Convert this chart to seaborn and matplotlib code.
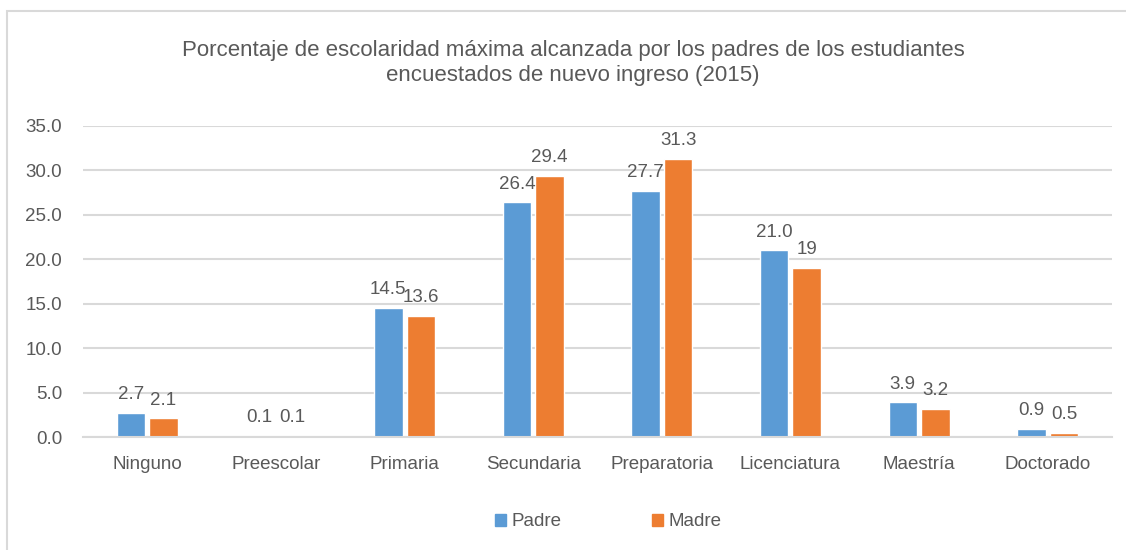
import pandas as pd
import numpy as np
import matplotlib.pyplot as plt
import seaborn as sns
from matplotlib.patches import Rectangle, Patch

sns.set_theme(style="white")
plt.rcParams['font.family'] = ['Liberation Sans Narrow', 'Liberation Sans', 'DejaVu Sans']

# Data
niveles = ["Ninguno", "Preescolar", "Primaria", "Secundaria", "Preparatoria",
           "Licenciatura", "Maestría", "Doctorado"]
padre = [2.7, 0.1, 14.5, 26.4, 27.7, 21.0, 3.9, 0.9]
madre = [2.1, 0.1, 13.6, 29.4, 31.3, 19.0, 3.2, 0.5]
etiquetas_padre = ["2.7", "0.1", "14.5", "26.4", "27.7", "21.0", "3.9", "0.9"]
etiquetas_madre = ["2.1", "0.1", "13.6", "29.4", "31.3", "19", "3.2", "0.5"]
series = ["Padre", "Madre"]
yticks = [0, 5, 10, 15, 20, 25, 30, 35]

df = pd.DataFrame({
    "nivel": niveles * 2,
    "valor": padre + madre,
    "serie": [series[0]] * len(niveles) + [series[1]] * len(niveles),
})

colores = {"Padre": "#5B9BD5", "Madre": "#ED7D31"}
gris = "#595959"

fig = plt.figure(figsize=(11.26, 5.5), dpi=100)
ax = fig.add_axes([83 / 1126, 1 - 437 / 550, (1112 - 83) / 1126, (437 - 126) / 550])

sns.barplot(data=df, x="nivel", y="valor", hue="serie", palette=colores,
            width=0.505, gap=0.12, ax=ax, legend=False, saturation=1)

for cont, labs in zip(ax.containers, [etiquetas_padre, etiquetas_madre]):
    ax.bar_label(cont, labels=labs, padding=7, fontsize=13.5, color=gris)

ax.set_ylim(0, 35)
ax.set_yticks(yticks)
ax.set_yticklabels([f"{v:.1f}" for v in yticks])
ax.set_xlim(-0.5, len(niveles) - 0.5)
ax.yaxis.grid(True, color="#D9D9D9", linewidth=1.5)
ax.set_axisbelow(True)
for s in ["top", "right", "left"]:
    ax.spines[s].set_visible(False)
ax.spines["bottom"].set_color("#D9D9D9")
ax.spines["bottom"].set_linewidth(1.5)
ax.set_xlabel("")
ax.set_ylabel("")
ax.tick_params(axis="x", length=0, pad=14, labelsize=13.5, labelcolor=gris)
ax.tick_params(axis="y", length=0, pad=15, labelsize=13.5, labelcolor=gris)

fig.text(573 / 1126, 1 - 63 / 550,
         "Porcentaje de escolaridad máxima alcanzada por los padres de los estudiantes\n"
         "encuestados de nuevo ingreso (2015)",
         ha="center", va="center", fontsize=16, color=gris, linespacing=1.2)

handles = [Patch(color=colores[s], label=s) for s in series]
fig.legend(handles=handles, loc="center", bbox_to_anchor=(608 / 1126, 1 - 522 / 550),
           ncol=2, frameon=False, fontsize=13.5, labelcolor=gris,
           handlelength=0.6, handleheight=0.6, handletextpad=0.3, columnspacing=4.8)

# chart border
fig.patches.append(Rectangle((7 / 1126, -0.1), 1.2, 1 - 11 / 550 + 0.1,
                             transform=fig.transFigure, fill=False,
                             edgecolor="#D9D9D9", linewidth=1.5))

fig.savefig("out.png", dpi=100)
